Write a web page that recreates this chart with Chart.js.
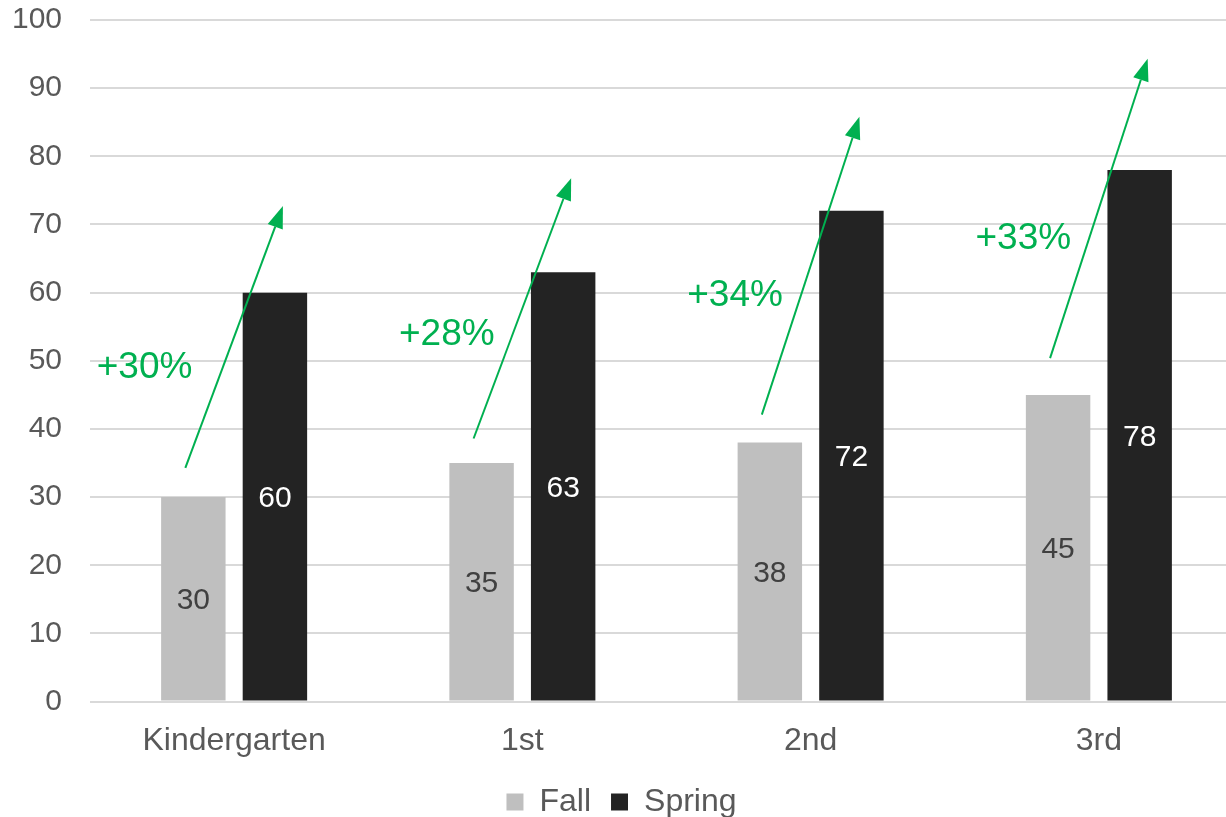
<!DOCTYPE html>
<html>
<head>
<meta charset="utf-8">
<script src="https://cdn.jsdelivr.net/npm/chart.js@4"></script>
<style>
  html, body { margin: 0; padding: 0; background: #fff; overflow: hidden; }
  #wrap { position: absolute; left: 0; top: -26px; width: 1243px; height: 856px; }
</style>
</head>
<body>
<div id="wrap"><canvas id="gradeChart"></canvas></div>
<script>
const grades = ['Kindergarten', '1st', '2nd', '3rd'];
const fallScores = [30, 35, 38, 45];
const springScores = [60, 63, 72, 78];
const growthLabels = ['+30%', '+28%', '+34%', '+33%'];
// where the green arrows start and end, read on the value axis
const arrowFrom = [34.3, 38.6, 42.1, 50.4];
const arrowTo = [72.7, 76.8, 85.8, 94.3];
const yTicks = [0, 10, 20, 30, 40, 50, 60, 70, 80, 90, 100];

const FONT = '"Liberation Sans", Arial, sans-serif';
const GREEN = '#00b050';

const overlay = {
    id: 'overlay',
    afterDatasetsDraw(chart) {
        const c = chart.ctx;
        const y = chart.scales.y;
        const fallMeta = chart.getDatasetMeta(0);
        const springMeta = chart.getDatasetMeta(1);

        // value labels in the middle of each bar
        c.save();
        c.font = '30px ' + FONT;
        c.textAlign = 'center';
        c.textBaseline = 'middle';
        [fallMeta, springMeta].forEach((meta, di) => {
            c.fillStyle = di === 0 ? '#404040' : '#ffffff';
            meta.data.forEach((bar, i) => {
                const v = chart.data.datasets[di].data[i];
                c.fillText(String(v), bar.x, (bar.y + bar.base) / 2 + 2);
            });
        });
        c.restore();

        // growth arrows and their labels
        c.save();
        c.strokeStyle = GREEN;
        c.fillStyle = GREEN;
        c.lineWidth = 2;
        grades.forEach((g, i) => {
            const x1 = fallMeta.data[i].x - 8;
            const y1 = y.getPixelForValue(arrowFrom[i]);
            const x2 = springMeta.data[i].x + 8;
            const y2 = y.getPixelForValue(arrowTo[i]);
            const ang = Math.atan2(y2 - y1, x2 - x1);
            const headLen = 22, headW = 8;
            const bx = x2 - headLen * Math.cos(ang);
            const by = y2 - headLen * Math.sin(ang);
            c.beginPath();
            c.moveTo(x1, y1);
            c.lineTo(bx, by);
            c.stroke();
            c.beginPath();
            c.moveTo(x2, y2);
            c.lineTo(bx + headW * Math.sin(ang), by - headW * Math.cos(ang));
            c.lineTo(bx - headW * Math.sin(ang), by + headW * Math.cos(ang));
            c.closePath();
            c.fill();

            const t = 0.4;
            const lx = x1 + (x2 - x1) * t - (i === 0 ? 32 : 18);
            const ly = y1 + (y2 - y1) * t + (i === 0 ? 5 : 0);
            c.font = '37px ' + FONT;
            c.textAlign = 'right';
            c.textBaseline = 'middle';
            c.fillText(growthLabels[i], lx, ly);
        });
        c.restore();
    }
};

new Chart(document.getElementById('gradeChart').getContext('2d'), {
    type: 'bar',
    data: {
        labels: grades,
        datasets: [
            {
                label: 'Fall',
                data: fallScores,
                backgroundColor: '#bfbfbf',
                categoryPercentage: 0.566,
                barPercentage: 0.79
            },
            {
                label: 'Spring',
                data: springScores,
                backgroundColor: '#232323',
                categoryPercentage: 0.566,
                barPercentage: 0.79
            }
        ]
    },
    options: {
        responsive: true,
        maintainAspectRatio: false,
        animation: false,
        layout: { padding: { top: 4, right: 0, left: 0, bottom: 2 } },
        plugins: {
            legend: {
                position: 'bottom',
                labels: {
                    color: '#595959',
                    font: { family: FONT, size: 32 },
                    boxWidth: 17,
                    boxHeight: 17,
                    padding: 20
                }
            },
            tooltip: { enabled: false }
        },
        scales: {
            x: {
                afterFit(scale) { scale.height -= 14; },
                grid: { display: false, drawTicks: false },
                border: { display: false },
                ticks: { color: '#595959', font: { family: FONT, size: 32 }, padding: 20 }
            },
            y: {
                min: 0,
                max: 100,
                afterFit(scale) { scale.width = 90; },
                afterBuildTicks(scale) { scale.ticks = yTicks.map(v => ({ value: v })); },
                grid: { color: '#d9d9d9', lineWidth: 2, drawTicks: false },
                border: { display: false },
                ticks: { color: '#595959', font: { family: FONT, size: 30 }, padding: 28 }
            }
        }
    },
    plugins: [overlay]
});
</script>
</body>
</html>
